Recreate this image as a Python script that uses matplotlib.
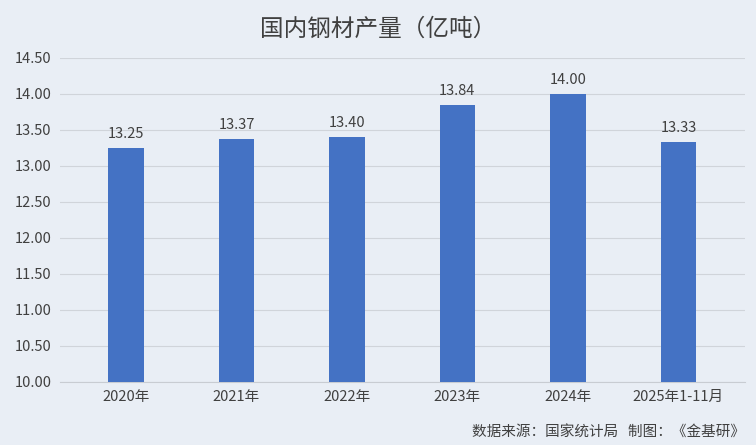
import matplotlib.pyplot as plt

plt.rcParams['font.family'] = ['Noto Sans CJK SC', 'DejaVu Sans']

categories = ["2020年", "2021年", "2022年", "2023年", "2024年", "2025年1-11月"]
values = [13.25, 13.37, 13.40, 13.84, 14.00, 13.33]
yticks = [10.00, 10.50, 11.00, 11.50, 12.00, 12.50, 13.00, 13.50, 14.00, 14.50]

bg = "#e9eef5"
fig = plt.figure(figsize=(7.56, 4.45), dpi=100, facecolor=bg)
ax = fig.add_axes([0.079, 0.142, 0.906, 0.728], facecolor=bg)

x = range(len(categories))
ax.bar(x, values, width=0.32, color="#4472c4", zorder=3)
for xi, v in zip(x, values):
    ax.text(xi, v + 0.1, f"{v:.2f}", ha="center", va="bottom", fontsize=10.5, color="#404040")

ax.set_ylim(10, 14.5)
ax.set_yticks(yticks)
ax.set_yticklabels([f"{t:.2f}" for t in yticks], fontsize=10.5, color="#404040")
ax.set_xticks(list(x))
ax.set_xticklabels(categories, fontsize=10.5, color="#404040")
ax.set_xlim(-0.6, len(categories) - 0.4)
ax.grid(axis="y", color="#d0d4da", linewidth=0.8, zorder=0)
for s in ["top", "right", "left"]:
    ax.spines[s].set_visible(False)
ax.spines["bottom"].set_color("#c8ccd2")
ax.tick_params(length=0, pad=6)

fig.text(0.5, 0.935, "国内钢材产量（亿吨）", ha="center", va="center", fontsize=17, color="#404040")
fig.text(0.985, 0.027, "数据来源：国家统计局   制图：《金基研》", ha="right", va="center", fontsize=10.5, color="#404040")

fig.savefig("out.png", dpi=100, facecolor=bg)
